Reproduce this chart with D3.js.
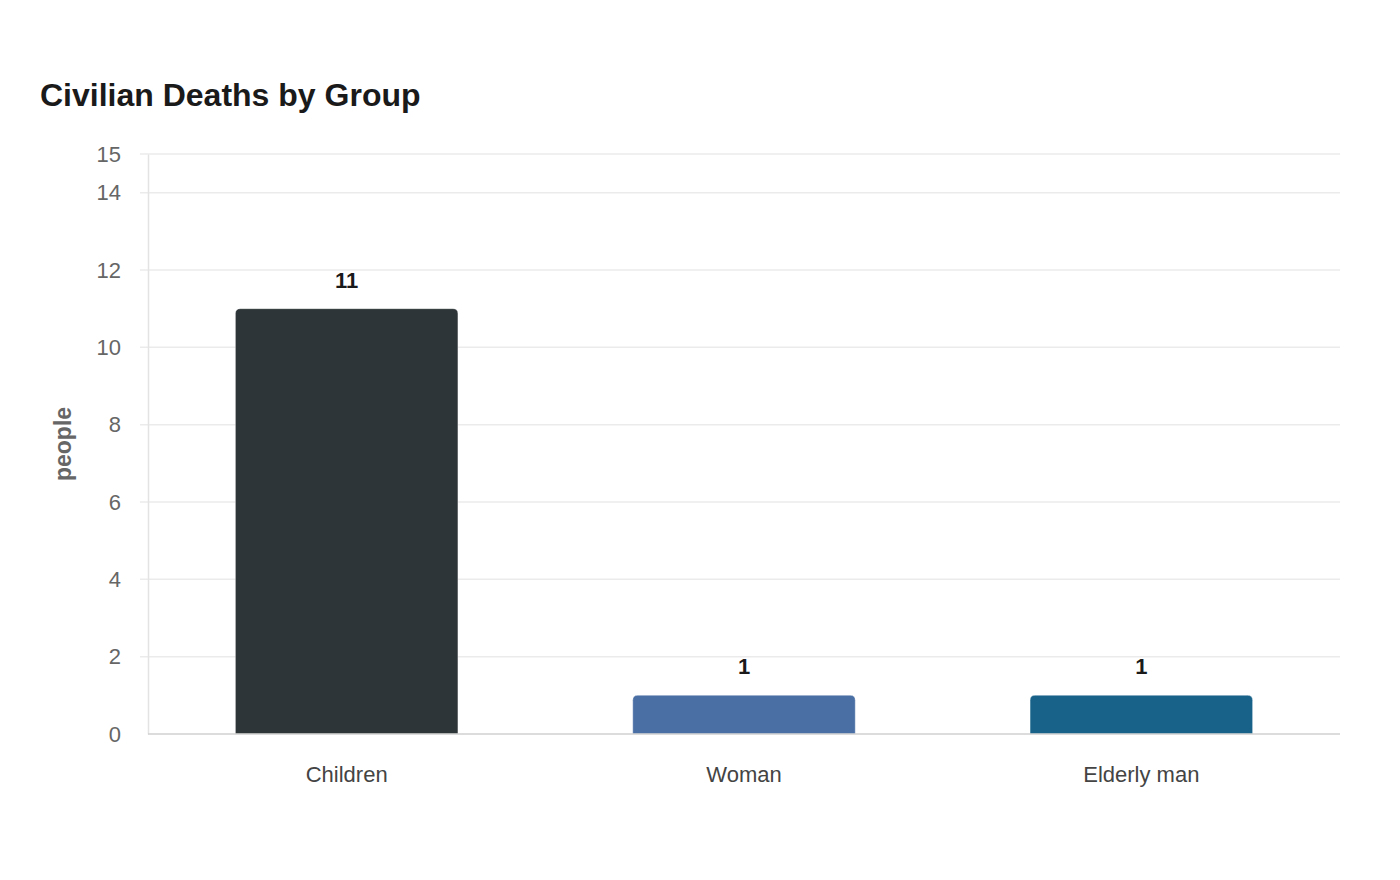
<!DOCTYPE html>
<html><head><meta charset="utf-8">
<script src="https://cdn.jsdelivr.net/npm/d3@7"></script>
<style>body{margin:0;background:#fff;}svg{display:block;font-family:"Liberation Sans",Arial,sans-serif;}</style>
</head><body><svg id="c" width="1400" height="880"></svg>
<script>
const categories = ["Children", "Woman", "Elderly man"];
const values = [11, 1, 1];
const colors = ["#2e3538", "#4a6fa5", "#186289"];
const yTicks = [0, 2, 4, 6, 8, 10, 12, 14, 15];
const title = "Civilian Deaths by Group";
const yLabel = "people";

const svg = d3.select("#c");
const m = {left: 148, right: 1340, top: 154, bottom: 734};
const x = d3.scaleBand().domain(categories).range([m.left, m.right]).paddingInner(0.44).paddingOuter(0.22);
const y = d3.scaleLinear().domain([0, 15]).range([m.bottom, m.top]);

svg.append("text").attr("x", 40).attr("y", 106).attr("font-size", 32).attr("font-weight", "bold")
  .attr("fill", "#1a1a1a").text(title);

// gridlines
svg.append("g").selectAll("line").data(yTicks.filter(d => d > 0)).join("line")
  .attr("x1", 140).attr("x2", m.right).attr("y1", d => y(d)).attr("y2", d => y(d))
  .attr("stroke", "#ebebeb").attr("stroke-width", 1.5);

// y axis
const ya = svg.append("g").attr("transform", `translate(${m.left},0)`)
  .call(d3.axisLeft(y).tickValues(yTicks).tickSize(0).tickPadding(27));
ya.select(".domain").attr("stroke", "#e3e3e3").attr("stroke-width", 1.5);
ya.selectAll("text").attr("font-size", 22).attr("fill", "#666").attr("font-family", "Liberation Sans, Arial, sans-serif");

svg.append("text").attr("transform", "translate(71,444) rotate(-90)").attr("text-anchor", "middle")
  .attr("font-size", 23).attr("font-weight", "bold").attr("fill", "#666").text(yLabel);

// bars with rounded tops
const r = 5;
function barPath(x0, w, yTop, yBot) {
  return `M${x0},${yBot}V${yTop + r}Q${x0},${yTop} ${x0 + r},${yTop}H${x0 + w - r}Q${x0 + w},${yTop} ${x0 + w},${yTop + r}V${yBot}Z`;
}
svg.append("g").selectAll("path").data(categories).join("path")
  .attr("d", (d, i) => barPath(x(d), x.bandwidth(), y(values[i]), y(0)))
  .attr("fill", (d, i) => colors[i]).attr("stroke", "rgba(255,255,255,0.35)").attr("stroke-width", 1);

// x axis baseline
svg.append("line").attr("x1", m.left).attr("x2", m.right).attr("y1", y(0)).attr("y2", y(0))
  .attr("stroke", "#d0d0d0").attr("stroke-width", 1.5);

// value labels
svg.append("g").selectAll("text").data(categories).join("text")
  .attr("x", d => x(d) + x.bandwidth() / 2).attr("y", (d, i) => y(values[i]) - 21)
  .attr("text-anchor", "middle").attr("font-size", 22).attr("font-weight", "bold").attr("fill", "#1a1a1a")
  .text((d, i) => values[i]);

// x axis labels
const xa = svg.append("g").attr("transform", `translate(0,${m.bottom})`)
  .call(d3.axisBottom(x).tickSize(0).tickPadding(32));
xa.select(".domain").remove();
xa.selectAll("text").attr("font-size", 22).attr("fill", "#444").attr("font-family", "Liberation Sans, Arial, sans-serif");
</script></body></html>
